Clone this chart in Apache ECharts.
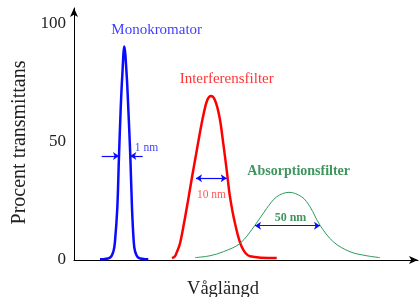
<!DOCTYPE html>
<html>
<head>
<meta charset="utf-8">
<script src="https://cdn.jsdelivr.net/npm/echarts@6/dist/echarts.min.js"></script>
<style>
  html, body { margin: 0; padding: 0; background: #fff; }
  #chart { width: 419px; height: 297px; }
</style>
</head>
<body>
<div id="chart"></div>
<script>
// x = relative wavelength (no scale shown), y = procent transmittans
const monoData = [
  [26, 0.3], [36, 1], [39.5, 3.8], [41, 8], [43.3, 22], [45, 44], [46.7, 64], [48.3, 78],
  [50.3, 90.2], [52.7, 78], [54.3, 64], [56.3, 44], [58, 22], [59.7, 8], [61, 3.8], [64.3, 1], [74.3, 0.3]
];
const interfData = [
  [98, 0.8], [101, 1.6], [103, 3.5], [106, 7], [110, 15.5], [114, 25], [118, 35], [122, 44.5],
  [126, 54], [129.5, 61.5], [133.2, 67.5], [137, 69.3], [141, 67.5], [145.5, 60.4], [149.3, 49.2],
  [152.7, 38], [156, 26.7], [161, 15.5], [167.7, 5.6], [176, 1.6], [202.7, 0.8]
];
const absData = [
  [121, 1], [136, 1.8], [149.3, 3.5], [166, 7], [181, 14.7], [192.7, 21.8], [202.7, 26.7],
  [215, 28.6], [227.7, 26.7], [236, 22.5], [246, 14.7], [259.3, 7.7], [276, 3.5], [292.7, 1.8], [306, 1]
];
const yTicks = [0, 50, 100];

// annotations: [x, y, text]
const curveNames = [
  [82.7, 97, 'Monokromator'],
  [152.7, 76.5, 'Interferensfilter'],
  [224.7, 37.3, 'Absorptionsfilter']
];
const widthLabels = [
  [72.5, 47.3, '1 nm'],
  [137.5, 27.6, '10 nm'],
  [216.5, 18, '50 nm']
];
// arrows: [x1, x2, y]
const monoArrows = [[27.7, 45, 44], [68.7, 56.3, 44]];
const interfArrow = [122, 152.7, 34.5];
const absArrow = [181, 246, 14.5];

const blue = '#0a0aff';
const red = '#ff0000';
const green = '#2e9a5c';
const darkGreen = '#0f7a35';
const serif = 'Liberation Serif';

const nameColors = [blue, red, darkGreen];
const widthColors = [blue, '#ff3030', darkGreen];

function arrowLine(x1, x2, y, both) {
  return [
    { coord: [x1, y], symbol: both ? 'arrow' : 'none' },
    { coord: [x2, y], symbol: 'arrow' }
  ];
}

const chart = echarts.init(document.getElementById('chart'));
const option = {
  animation: false,
  backgroundColor: '#fff',
  grid: { left: 74, right: 1, top: 8, bottom: 37, outerBoundsMode: 'none', containLabel: false },
  xAxis: {
    type: 'value',
    min: 0,
    max: 344,
    name: 'Våglängd',
    nameLocation: 'middle',
    nameGap: 20,
    nameTextStyle: { fontFamily: serif, fontSize: 18.5, color: '#222', padding: [0, 46, 0, 0] },
    axisLine: { show: true, symbol: ['none', 'arrow'], symbolSize: [6, 9], lineStyle: { color: '#000', width: 1 } },
    axisTick: { show: false },
    axisLabel: { show: false },
    splitLine: { show: false }
  },
  yAxis: {
    type: 'value',
    min: 0,
    max: 106.5,
    interval: 50,
    name: 'Procent transmittans',
    nameLocation: 'middle',
    nameGap: 41,
    nameTextStyle: { fontFamily: serif, fontSize: 20, color: '#222', padding: [0, 17, 0, 0] },
    axisLine: { show: true, symbol: ['none', 'arrow'], symbolSize: [6, 9], lineStyle: { color: '#000', width: 1 } },
    axisTick: { show: false },
    axisLabel: {
      fontFamily: serif, fontSize: 17, color: '#222', margin: 8,
      formatter: v => yTicks.includes(v) ? String(v) : ''
    },
    splitLine: { show: false }
  },
  series: [
    {
      type: 'line', data: monoData, smooth: 0.35, showSymbol: false,
      lineStyle: { color: blue, width: 2.5 },
      markLine: {
        silent: true, symbolSize: 6, label: { show: false },
        lineStyle: { color: blue, width: 1.2, type: 'solid' },
        data: monoArrows.map(a => arrowLine(a[0], a[1], a[2], false))
      }
    },
    {
      type: 'line', data: interfData, smooth: 0.35, showSymbol: false,
      lineStyle: { color: red, width: 2.5 },
      markLine: {
        silent: true, symbolSize: 6, label: { show: false },
        lineStyle: { color: blue, width: 1.2, type: 'solid' },
        data: [arrowLine(interfArrow[0], interfArrow[1], interfArrow[2], true)]
      }
    },
    {
      type: 'line', data: absData, smooth: 0.35, showSymbol: false,
      lineStyle: { color: green, width: 1 },
      markLine: {
        silent: true, symbolSize: 6, label: { show: false },
        lineStyle: { color: blue, width: 1.2, type: 'solid' },
        data: [arrowLine(absArrow[0], absArrow[1], absArrow[2], true)]
      }
    },
    {
      type: 'scatter', silent: true, symbolSize: 1,
      itemStyle: { color: 'transparent' },
      data: curveNames.map((d, i) => ({
        value: [d[0], d[1]],
        label: {
          show: true, position: 'inside', formatter: d[2],
          fontFamily: serif, fontSize: i === 2 ? 14 : 15,
          fontWeight: i === 2 ? 'bold' : 'normal', color: nameColors[i]
        }
      }))
    },
    {
      type: 'scatter', silent: true, symbolSize: 1,
      itemStyle: { color: 'transparent' },
      data: widthLabels.map((d, i) => ({
        value: [d[0], d[1]],
        label: {
          show: true, position: 'inside', formatter: d[2],
          fontFamily: serif, fontSize: i === 2 ? 12 : 11.5,
          fontWeight: i === 2 ? 'bold' : 'normal', color: widthColors[i]
        }
      }))
    }
  ]
};
chart.setOption(option);
</script>
</body>
</html>
